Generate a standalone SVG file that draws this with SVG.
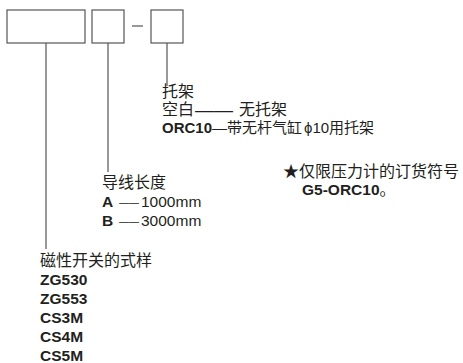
<svg xmlns="http://www.w3.org/2000/svg" width="463" height="363" viewBox="0 0 463 363">
<style>
.box{fill:#fff;stroke:#555;stroke-width:1.2}
.ln{stroke:#555;stroke-width:1.2;fill:none}
text{font-family:"Liberation Sans","Noto Sans CJK SC",sans-serif;font-size:15.5px;fill:#231f20}
.cn{font-size:16px}
.cs{font-size:15px}
.b{font-weight:bold}
.d10{font-size:10px}
.d19{font-size:19px}
</style>
<rect width="463" height="363" fill="#fff"/>
<g id="box-switch"><rect class="box" x="7" y="10" width="78" height="33"/></g>
<g id="box-length"><rect class="box" x="92" y="10" width="32" height="33"/></g>
<g id="box-bracket"><rect class="box" x="151" y="10" width="32" height="33"/></g>
<g id="connectors">
<line class="ln" x1="132" y1="26" x2="143" y2="26"/>
<line class="ln" x1="46" y1="43" x2="46" y2="249"/>
<line class="ln" x1="108" y1="43" x2="108" y2="172"/>
<line class="ln" x1="167" y1="43" x2="167" y2="86"/>
</g>
<g id="label-bracket">
<text class="cn" x="162" y="97">托架</text>
<text class="cn" x="162" y="115">空白</text>
<text class="d19" x="195" y="116">——</text>
<text class="cn" x="239" y="115">无托架</text>
<text x="162" y="133"><tspan class="b" font-size="15">ORC10</tspan><tspan x="212" font-size="15">—</tspan><tspan class="cs" x="227">带无杆气缸</tspan><tspan x="304" font-size="15">ϕ10</tspan><tspan class="cs">用托架</tspan></text>
</g>
<g id="label-length">
<text class="cn" x="102" y="188">导线长度</text>
<text class="b" x="102" y="207">A</text>
<text class="d10" x="119" y="205.5">——</text>
<text x="141" y="207">1000mm</text>
<text class="b" x="102" y="226">B</text>
<text class="d10" x="119" y="224.5">——</text>
<text x="141" y="226">3000mm</text>
</g>
<g id="label-switch">
<text class="cn" x="40" y="266">磁性开关的式样</text>
<text class="b" x="40" y="285">ZG530</text>
<text class="b" x="40" y="304">ZG553</text>
<text class="b" x="40" y="323">CS3M</text>
<text class="b" x="40" y="342">CS4M</text>
<text class="b" x="40" y="361">CS5M</text>
</g>
<g id="note">
<text class="cn" x="283" y="177">★仅限压力计的订货符号</text>
<text x="302" y="195"><tspan class="b">G5-ORC10</tspan><tspan class="cn">。</tspan></text>
</g>
</svg>
